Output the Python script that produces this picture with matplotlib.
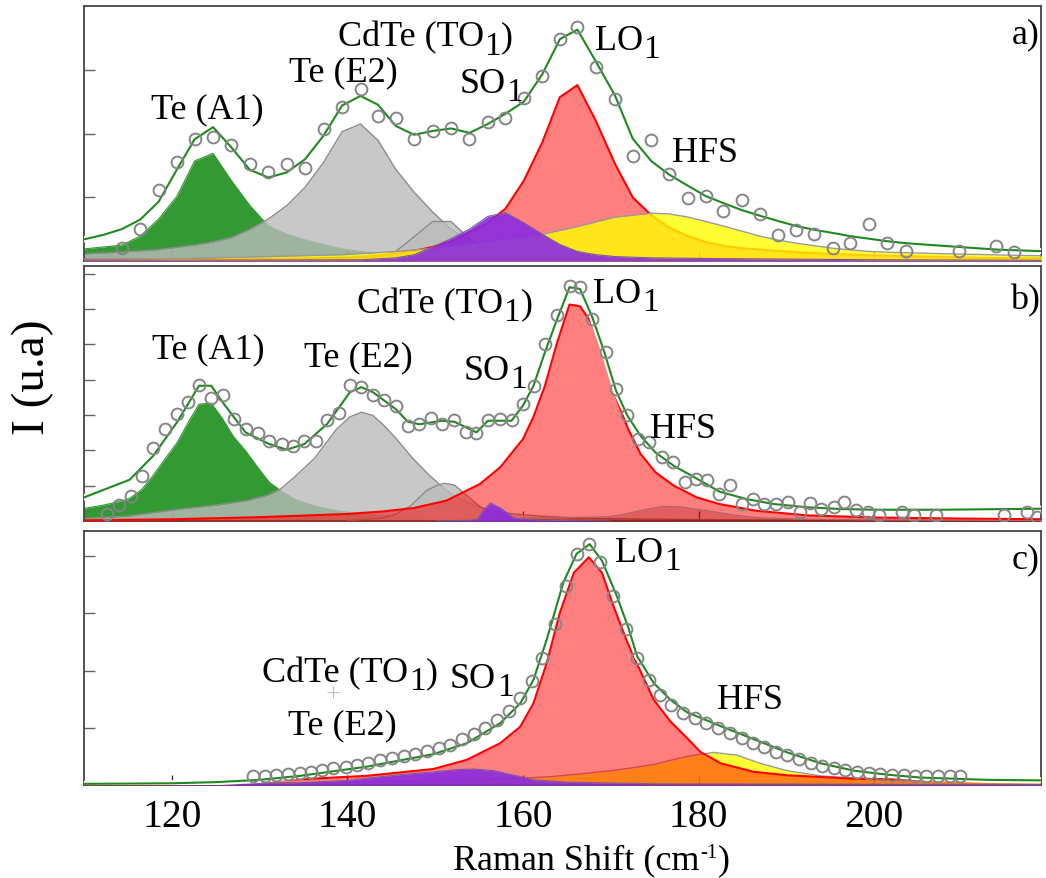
import numpy as np
import matplotlib
matplotlib.use('Agg')
import matplotlib.pyplot as plt
import matplotlib.patheffects as pe

plt.rcParams['font.family'] = ['Liberation Serif', 'DejaVu Serif']


# --- 1. DATA ---

# panel a) measured spectrum
a_x = [114.3, 116.4, 118.5, 120.6, 122.6, 124.7, 126.8, 128.9, 131.0, 133.1, 135.2, 137.3,
       139.4, 141.5, 143.5, 145.5, 147.6, 149.7, 151.8, 153.9, 156.0, 158.0, 160.1, 162.2,
       164.2, 166.2, 168.3, 170.5, 172.5, 174.6, 176.6, 178.8, 180.8, 182.8, 184.9, 187.0,
       189.0, 191.1, 193.2, 195.3, 197.3, 199.4, 201.5, 203.6, 209.7, 213.9, 215.9]
a_y = [0.21, 0.51, 1.12, 1.56, 1.91, 1.94, 1.82, 1.52, 1.39, 1.52, 1.46, 2.07,
       2.41, 2.70, 2.28, 2.25, 1.92, 2.04, 2.08, 1.92, 2.18, 2.25, 2.56, 2.90,
       3.48, 3.67, 3.05, 2.54, 1.65, 1.90, 1.36, 0.99, 1.02, 0.79, 0.95, 0.74,
       0.41, 0.49, 0.42, 0.21, 0.29, 0.58, 0.28, 0.15, 0.15, 0.24, 0.14]

a_fit_x = [110.0, 112.2, 114.3, 116.4, 118.5, 120.6, 122.6, 124.7, 126.8, 128.9, 131.0, 133.1,
           135.2, 137.3, 139.4, 141.5, 143.5, 145.5, 147.6, 149.7, 151.8, 153.9, 156.0, 158.0,
           160.1, 162.2, 164.2, 166.2, 168.3, 170.5, 172.5, 174.6, 176.6, 178.8, 180.8, 182.8,
           184.9, 187.0, 189.0, 191.1, 193.2, 195.3, 197.3, 199.4, 201.5, 203.6, 205.6, 207.7,
           209.7, 211.8, 213.9, 215.9, 218.0, 220.1]
a_fit_y = [0.34, 0.41, 0.50, 0.65, 0.93, 1.44, 1.91, 2.10, 1.78, 1.43, 1.31, 1.39,
           1.60, 1.97, 2.44, 2.59, 2.45, 2.12, 1.98, 2.04, 2.08, 2.01, 2.15, 2.31,
           2.50, 2.93, 3.48, 3.63, 3.13, 2.59, 1.92, 1.57, 1.36, 1.18, 1.02, 0.91,
           0.80, 0.71, 0.63, 0.55, 0.49, 0.44, 0.39, 0.35, 0.31, 0.28, 0.26, 0.24,
           0.22, 0.20, 0.18, 0.17, 0.16, 0.15]

a_tea1_x = [110.0, 112.2, 114.3, 116.4, 118.5, 120.6, 122.6, 124.7, 126.8, 128.9, 131.0, 133.1,
            135.2, 137.3, 139.4, 141.5, 143.5, 147.6, 153.9, 162.2, 176.6, 199.4, 220.1]
a_tea1_y = [0.19, 0.22, 0.25, 0.39, 0.66, 1.02, 1.57, 1.69, 1.26, 0.87, 0.55, 0.42,
            0.33, 0.26, 0.19, 0.15, 0.12, 0.09, 0.06, 0.04, 0.03, 0.02, 0.02]

a_tee2_x = [110.0, 114.3, 118.5, 122.6, 124.7, 126.8, 128.9, 131.0, 133.1, 135.2, 137.3, 139.4,
            141.5, 143.5, 145.5, 147.6, 149.7, 151.8, 153.9, 156.0, 158.0, 160.1, 164.2, 170.5,
            180.8, 199.4, 220.1]
a_tee2_y = [0.11, 0.14, 0.18, 0.25, 0.30, 0.37, 0.50, 0.66, 0.87, 1.16, 1.55, 2.03,
            2.15, 1.89, 1.44, 1.08, 0.77, 0.50, 0.32, 0.21, 0.15, 0.11, 0.07, 0.05,
            0.04, 0.03, 0.02]

a_to_x = [110.0, 141.5, 143.5, 145.5, 147.6, 149.7, 151.8, 153.9, 156.0, 158.0, 160.1, 166.2, 220.1]
a_to_y = [0.01, 0.03, 0.06, 0.15, 0.38, 0.62, 0.62, 0.35, 0.14, 0.07, 0.04, 0.02, 0.01]

a_so_x = [110.0, 141.5, 145.5, 147.6, 149.7, 151.8, 153.9, 156.0, 158.0, 160.1, 162.2, 164.2,
          166.2, 168.3, 170.5, 174.6, 180.8, 199.4, 220.1]
a_so_y = [0.01, 0.02, 0.05, 0.10, 0.22, 0.35, 0.50, 0.70, 0.76, 0.60, 0.42, 0.26,
          0.15, 0.10, 0.07, 0.05, 0.04, 0.02, 0.01]

a_lo_x = [110.0, 124.7, 135.2, 139.4, 143.5, 147.6, 149.7, 151.8, 153.9, 156.0, 158.0, 160.1,
          162.2, 164.2, 166.2, 168.3, 170.5, 172.5, 174.6, 176.6, 178.8, 180.8, 182.8, 184.9,
          187.0, 191.1, 195.3, 199.4, 205.6, 211.8, 220.1]
a_lo_y = [0.02, 0.03, 0.04, 0.05, 0.08, 0.16, 0.22, 0.31, 0.45, 0.60, 0.82, 1.26,
          1.86, 2.57, 2.76, 2.20, 1.52, 1.00, 0.72, 0.53, 0.39, 0.30, 0.24, 0.20,
          0.18, 0.14, 0.11, 0.09, 0.07, 0.05, 0.04]

a_hfs_x = [110.0, 120.6, 131.0, 139.4, 145.5, 149.7, 153.9, 158.0, 162.2, 166.2, 170.5, 174.6,
           176.6, 178.8, 180.8, 182.8, 184.9, 187.0, 189.0, 191.1, 193.2, 195.3, 199.4, 203.6,
           209.7, 215.9, 220.1]
a_hfs_y = [0.03, 0.04, 0.07, 0.10, 0.15, 0.20, 0.27, 0.35, 0.42, 0.54, 0.69, 0.75,
           0.74, 0.69, 0.62, 0.55, 0.47, 0.39, 0.33, 0.28, 0.24, 0.20, 0.15, 0.13,
           0.11, 0.09, 0.08]

# panel b) measured spectrum
b_x = [112.6, 114.0, 115.3, 116.6, 117.9, 119.2, 120.6, 121.9, 123.1, 124.5, 125.8, 127.1,
       128.4, 129.8, 131.1, 132.5, 133.8, 135.1, 136.4, 137.7, 139.0, 140.3, 141.6, 142.9,
       144.2, 145.5, 146.9, 148.2, 149.5, 150.8, 152.2, 153.5, 154.7, 156.0, 157.4, 158.7,
       160.0, 161.2, 162.5, 163.9, 165.3, 166.5, 167.9, 169.4, 170.6, 171.9, 173.1, 174.3,
       175.8, 177.1, 178.4, 179.7, 181.0, 182.3, 183.6, 184.9, 186.2, 187.5, 188.8, 190.2,
       191.5, 192.7, 194.0, 195.4, 196.6, 197.9, 199.3, 200.6, 203.2, 204.5, 207.0, 214.8,
       217.4, 218.6]
b_y = [0.20, 0.45, 0.72, 1.28, 2.07, 2.61, 3.03, 3.36, 3.85, 3.47, 3.57, 2.89,
       2.62, 2.48, 2.28, 2.18, 2.12, 2.26, 2.26, 2.86, 3.06, 3.85, 3.79, 3.57,
       3.44, 3.27, 2.70, 2.74, 2.91, 2.74, 2.87, 2.51, 2.49, 2.87, 2.89, 2.86,
       3.31, 3.83, 5.00, 5.83, 6.65, 6.62, 5.72, 4.78, 3.74, 3.00, 2.32, 2.25,
       1.80, 1.68, 1.10, 1.19, 1.17, 0.76, 1.02, 0.48, 0.62, 0.48, 0.48, 0.54,
       0.26, 0.52, 0.35, 0.41, 0.55, 0.31, 0.26, 0.16, 0.26, 0.16, 0.16, 0.16,
       0.26, 0.12]

b_fit_x = [109.5, 115.2, 117.9, 120.6, 123.1, 124.5, 125.8, 128.4, 131.1, 133.1, 135.1, 137.7,
           140.3, 141.6, 142.9, 145.5, 146.9, 148.2, 150.8, 152.2, 154.7, 156.0, 158.7, 160.0,
           161.2, 162.5, 163.9, 165.3, 166.5, 167.9, 169.2, 170.6, 171.9, 173.4, 175.1, 177.2,
           179.8, 182.4, 185.5, 188.6, 192.4, 196.2, 200.0, 207.6, 219.5]
b_fit_y = [0.62, 1.17, 1.85, 2.80, 3.83, 3.83, 3.36, 2.51, 2.18, 2.02, 2.18, 2.75,
           3.65, 3.79, 3.65, 3.17, 2.81, 2.74, 2.84, 2.81, 2.51, 2.84, 2.84, 3.27,
           3.83, 4.78, 5.72, 6.62, 6.57, 5.77, 4.83, 3.69, 2.98, 2.41, 1.94, 1.56,
           1.20, 0.83, 0.62, 0.48, 0.39, 0.34, 0.32, 0.32, 0.35]

b_tea1_x = [110.0, 112.0, 114.0, 115.2, 116.6, 117.9, 119.2, 120.6, 122.0, 123.1, 124.5, 125.8,
            127.0, 128.4, 130.0, 131.1, 132.4, 134.0, 136.2, 138.0, 140.0, 144.0, 148.0, 152.0,
            156.0, 162.0, 170.0, 180.0, 200.0, 220.0]
b_tea1_y = [0.36, 0.44, 0.55, 0.64, 0.90, 1.30, 1.75, 2.22, 2.85, 3.31, 3.34, 2.89,
            2.40, 1.99, 1.45, 1.10, 0.86, 0.62, 0.43, 0.33, 0.25, 0.16, 0.11, 0.08,
            0.05, 0.04, 0.03, 0.02, 0.01, 0.01]

b_tee2_x = [110.0, 115.0, 121.0, 125.0, 128.6, 131.0, 132.4, 134.0, 136.2, 138.0, 138.8, 140.3,
            141.6, 142.9, 144.2, 145.6, 147.5, 149.4, 151.3, 153.2, 155.1, 157.0, 158.9, 162.0,
            166.5, 172.0, 180.0, 200.0, 220.0]
b_tee2_y = [0.07, 0.14, 0.34, 0.45, 0.58, 0.74, 0.91, 1.25, 1.76, 2.35, 2.61, 2.95,
            3.08, 2.99, 2.70, 2.32, 1.76, 1.28, 0.86, 0.58, 0.39, 0.27, 0.20, 0.14,
            0.08, 0.06, 0.04, 0.02, 0.01]

b_to_x = [140.0, 144.0, 145.6, 147.2, 149.0, 150.1, 151.1, 152.2, 153.7, 155.2, 157.1, 160.0, 165.0]
b_to_y = [0.01, 0.08, 0.20, 0.43, 0.86, 1.00, 1.07, 1.02, 0.70, 0.39, 0.15, 0.04, 0.01]

b_so_x = [150.0, 154.0, 154.8, 155.6, 156.3, 157.5, 159.0, 162.0, 170.0]
b_so_y = [0.00, 0.02, 0.05, 0.34, 0.51, 0.36, 0.08, 0.02, 0.00]

b_lo_x = [110.0, 120.0, 130.0, 140.0, 144.0, 147.6, 151.3, 155.1, 157.4, 160.0, 161.2, 162.5,
          163.9, 165.3, 166.5, 167.9, 169.4, 170.7, 171.9, 173.4, 175.1, 177.2, 179.8, 182.4,
          186.6, 192.4, 200.0, 210.0, 220.0]
b_lo_y = [0.02, 0.05, 0.11, 0.20, 0.27, 0.37, 0.58, 1.05, 1.52, 2.32, 2.95, 3.83,
          5.06, 6.13, 6.08, 5.58, 4.50, 3.46, 2.65, 1.90, 1.38, 1.00, 0.67, 0.48,
          0.29, 0.16, 0.10, 0.07, 0.05]

b_hfs_x = [160.0, 165.0, 169.6, 171.5, 174.0, 176.0, 178.0, 181.0, 184.0, 186.6, 192.0, 200.0, 220.0]
b_hfs_y = [0.08, 0.10, 0.12, 0.19, 0.33, 0.42, 0.40, 0.29, 0.17, 0.10, 0.05, 0.03, 0.01]

# panel c) measured spectrum
c_x = [129.3, 130.6, 131.9, 133.2, 134.6, 135.8, 137.1, 138.4, 139.8, 141.1, 142.4, 143.7,
       145.1, 146.4, 147.7, 149.1, 150.4, 151.7, 153.0, 154.4, 155.7, 157.0, 158.4, 159.7,
       161.0, 162.2, 163.6, 164.9, 166.2, 167.5, 168.8, 170.3, 171.7, 173.0, 174.3, 175.6,
       176.9, 178.2, 179.6, 180.9, 182.2, 183.6, 184.9, 186.2, 187.4, 188.8, 190.1, 191.4,
       192.8, 194.1, 195.4, 196.7, 198.1, 199.4, 200.7, 202.0, 203.4, 204.6, 205.9, 207.3,
       208.6, 209.8]
c_y = [0.15, 0.16, 0.17, 0.19, 0.21, 0.23, 0.26, 0.29, 0.32, 0.35, 0.39, 0.44,
       0.47, 0.51, 0.54, 0.60, 0.64, 0.70, 0.80, 0.89, 0.99, 1.14, 1.29, 1.52,
       1.81, 2.22, 2.81, 3.47, 4.04, 4.21, 3.90, 3.30, 2.72, 2.22, 1.84, 1.58,
       1.39, 1.26, 1.17, 1.08, 0.99, 0.91, 0.82, 0.74, 0.66, 0.58, 0.53, 0.45,
       0.39, 0.33, 0.29, 0.26, 0.23, 0.21, 0.19, 0.18, 0.17, 0.16, 0.15, 0.15,
       0.15, 0.15]

c_fit_x = [110.0, 120.0, 125.0, 130.0, 134.6, 142.2, 149.8, 153.6, 157.4, 159.7, 161.2, 162.7,
           164.6, 166.1, 167.6, 169.0, 170.7, 172.0, 173.0, 174.9, 176.8, 178.7, 182.5, 186.3,
           190.1, 193.9, 197.7, 201.5, 205.3, 209.1, 212.9, 219.6]
c_fit_y = [0.02, 0.03, 0.05, 0.09, 0.16, 0.32, 0.54, 0.73, 1.08, 1.43, 1.84, 2.54,
           3.54, 4.04, 4.21, 3.92, 3.30, 2.75, 2.25, 1.78, 1.49, 1.27, 1.03, 0.80,
           0.57, 0.38, 0.25, 0.18, 0.13, 0.11, 0.09, 0.08]

c_lo_x = [110.0, 120.0, 129.3, 134.6, 142.2, 149.8, 153.6, 157.4, 159.7, 161.2, 162.7, 164.2,
          165.8, 167.5, 169.0, 170.3, 171.9, 173.2, 174.9, 176.8, 178.7, 180.2, 182.5, 186.3,
          190.1, 197.7, 209.1, 220.0]
c_lo_y = [0.02, 0.03, 0.07, 0.10, 0.16, 0.28, 0.44, 0.73, 1.02, 1.43, 2.13, 3.01,
          3.71, 3.98, 3.71, 3.13, 2.49, 2.05, 1.49, 1.11, 0.82, 0.58, 0.38, 0.23,
          0.17, 0.11, 0.08, 0.07]

c_hfs_x = [110.0, 130.0, 140.0, 150.0, 155.0, 160.1, 163.5, 166.9, 170.0, 172.0, 174.9, 178.7,
           181.7, 184.4, 187.0, 190.1, 193.9, 197.7, 205.3, 220.0]
c_hfs_y = [0.01, 0.03, 0.05, 0.08, 0.10, 0.12, 0.15, 0.20, 0.25, 0.29, 0.36, 0.50,
           0.57, 0.52, 0.38, 0.25, 0.16, 0.12, 0.09, 0.06]

c_so_x = [120.0, 134.6, 140.0, 142.2, 146.0, 149.8, 152.5, 154.4, 156.7, 159.3, 161.2, 165.0, 175.0, 220.0]
c_so_y = [0.01, 0.04, 0.08, 0.12, 0.18, 0.23, 0.27, 0.28, 0.25, 0.16, 0.09, 0.05, 0.02, 0.01]

x_ticks = [120, 140, 160, 180, 200]


# --- 2. HELPERS ---

LBL = 26     # peak label size
SUB = 24     # subscript size


def peak(ax, x, y, face, alpha, edge, lw, z):
    ax.fill_between(x, 0, y, color=face, alpha=alpha, lw=0, zorder=z)
    ax.plot(x, y, color=edge, lw=lw, zorder=z + 0.1)


def spectrum(ax, dx, dy, fx, fy):
    ax.plot(fx, fy, color='#1e8a1e', lw=1.5, zorder=10,
            path_effects=[pe.withStroke(linewidth=4.5, foreground='white')])
    ax.plot(dx, dy, 'o', ms=8.5, mfc='none', mec='#858585', mew=1.4, zorder=11)


def label(ax, x, y, s, ha='left'):
    ax.text(x, y, s, fontsize=LBL, ha=ha, va='baseline', zorder=12)


def sub_label(ax, x, y, head, sub, tail=''):
    # big, lowered subscript like the original figure
    t = ax.text(x, y, head, fontsize=LBL, ha='left', va='baseline', zorder=12)
    s = ax.annotate(sub, xy=(1, 0), xycoords=t, xytext=(0.3, -5), textcoords='offset points',
                    fontsize=SUB, ha='left', va='bottom', zorder=12)
    if tail:
        ax.annotate(tail, xy=(1, 0), xycoords=s, xytext=(0.3, 5), textcoords='offset points',
                    fontsize=LBL, ha='left', va='bottom', zorder=12)


def frame(ax, ymax, yticks):
    ax.set_xlim(110, 219)
    ax.set_ylim(0, ymax)
    ax.set_xticks(x_ticks)
    ax.set_yticks(yticks)
    ax.tick_params(axis='x', direction='in', length=7, width=1, color='#333333', labelsize=28.5, pad=9)
    ax.tick_params(axis='y', direction='in', length=8, width=1, color='#666666', labelleft=False)
    for s in ax.spines.values():
        s.set_color('#444444')
        s.set_linewidth(1.3)


# --- 3. FIGURE ---

fig = plt.figure(figsize=(10.46, 8.79), dpi=100)
ax_a = fig.add_axes([0.0803, 0.7019, 0.9149, 0.2901])
ax_b = fig.add_axes([0.0803, 0.4061, 0.9149, 0.2901])
ax_c = fig.add_axes([0.0803, 0.1058, 0.9149, 0.2890])

# a)
peak(ax_a, a_tea1_x, a_tea1_y, '#339933', 1.0, '#339933', 0.8, 1)
peak(ax_a, a_tee2_x, a_tee2_y, '#bbbbbb', 0.8, '#8c8c8c', 1.0, 2)
peak(ax_a, a_to_x, a_to_y, '#bbbbbb', 0.8, '#8c8c8c', 1.0, 2.5)
peak(ax_a, a_lo_x, a_lo_y, '#ff0000', 0.5, '#ff0000', 1.5, 3)
peak(ax_a, a_hfs_x, a_hfs_y, '#ffff00', 0.8, '#9a9a9a', 1.0, 4)
peak(ax_a, a_so_x, a_so_y, '#8a2be2', 0.9, '#7a5a9a', 0.8, 5)
spectrum(ax_a, a_x, a_y, a_fit_x, a_fit_y)
frame(ax_a, 4.0, [1, 2, 3])
ax_a.tick_params(axis='x', labelbottom=False)
label(ax_a, 124.1, 2.26, 'Te (A1)', 'center')
label(ax_a, 139.5, 2.83, 'Te (E2)', 'center')
sub_label(ax_a, 138.9, 3.38, 'CdTe (TO', '1', ')')
sub_label(ax_a, 152.8, 2.65, 'SO', '1')
sub_label(ax_a, 168.2, 3.33, 'LO', '1')
label(ax_a, 177.0, 1.57, 'HFS')
label(ax_a, 218.9, 3.43, 'a)', 'right')

# b)
peak(ax_b, b_tea1_x, b_tea1_y, '#339933', 1.0, '#339933', 0.8, 1)
peak(ax_b, b_tee2_x, b_tee2_y, '#bbbbbb', 0.8, '#8c8c8c', 1.0, 2)
peak(ax_b, b_to_x, b_to_y, '#bbbbbb', 0.8, '#8c8c8c', 1.0, 2.5)
peak(ax_b, b_lo_x, b_lo_y, '#ff0000', 0.5, '#ff0000', 1.5, 3)
peak(ax_b, b_hfs_x, b_hfs_y, '#8b0000', 0.25, '#b06060', 0.8, 4)
peak(ax_b, b_so_x, b_so_y, '#8a2be2', 0.9, '#7a5a9a', 0.8, 5)
spectrum(ax_b, b_x, b_y, b_fit_x, b_fit_y)
frame(ax_b, 7.22, [1, 2, 3, 4, 5, 6, 7])
ax_b.tick_params(axis='x', labelbottom=False)
label(ax_b, 124.2, 4.64, 'Te (A1)', 'center')
label(ax_b, 141.3, 4.40, 'Te (E2)', 'center')
sub_label(ax_b, 141.1, 5.91, 'CdTe (TO', '1', ')')
sub_label(ax_b, 153.2, 4.02, 'SO', '1')
sub_label(ax_b, 168.0, 6.20, 'LO', '1')
label(ax_b, 174.5, 2.37, 'HFS')
label(ax_b, 218.9, 6.01, 'b)', 'right')

# c)
peak(ax_c, c_hfs_x, c_hfs_y, '#ffff00', 0.8, '#9a9a9a', 1.0, 2)
peak(ax_c, c_lo_x, c_lo_y, '#ff0000', 0.5, '#ff0000', 1.5, 3)
peak(ax_c, c_so_x, c_so_y, '#8a2be2', 0.9, '#7a5a9a', 0.8, 5)
spectrum(ax_c, c_x, c_y, c_fit_x, c_fit_y)
ax_c.plot([138.4], [1.63], '+', ms=8, color='#bbbbbb', mew=0.8)
frame(ax_c, 4.44, [1, 2, 3, 4])
sub_label(ax_c, 130.3, 1.81, 'CdTe (TO', '1', ')')
sub_label(ax_c, 151.7, 1.72, 'SO', '1')
label(ax_c, 139.4, 0.91, 'Te (E2)', 'center')
sub_label(ax_c, 170.5, 3.92, 'LO', '1')
label(ax_c, 182.1, 1.35, 'HFS')
label(ax_c, 218.9, 3.80, 'c)', 'right')

# axis titles
xl = fig.text(453 / 1046, 1 - 869 / 879, 'Raman Shift (cm', fontsize=26, ha='left', va='baseline')
xs = ax_c.annotate('-1', xy=(1, 0), xycoords=xl, xytext=(0.3, 10), textcoords='offset points',
                   fontsize=15, ha='left', va='bottom')
ax_c.annotate(')', xy=(1, 0), xycoords=xs, xytext=(0.3, -10), textcoords='offset points',
              fontsize=26, ha='left', va='bottom')
fig.text(33 / 1046, 1 - 377 / 879, 'I (u.a)', fontsize=34, rotation=90, ha='center', va='center')

fig.savefig('out.png', dpi=100)
